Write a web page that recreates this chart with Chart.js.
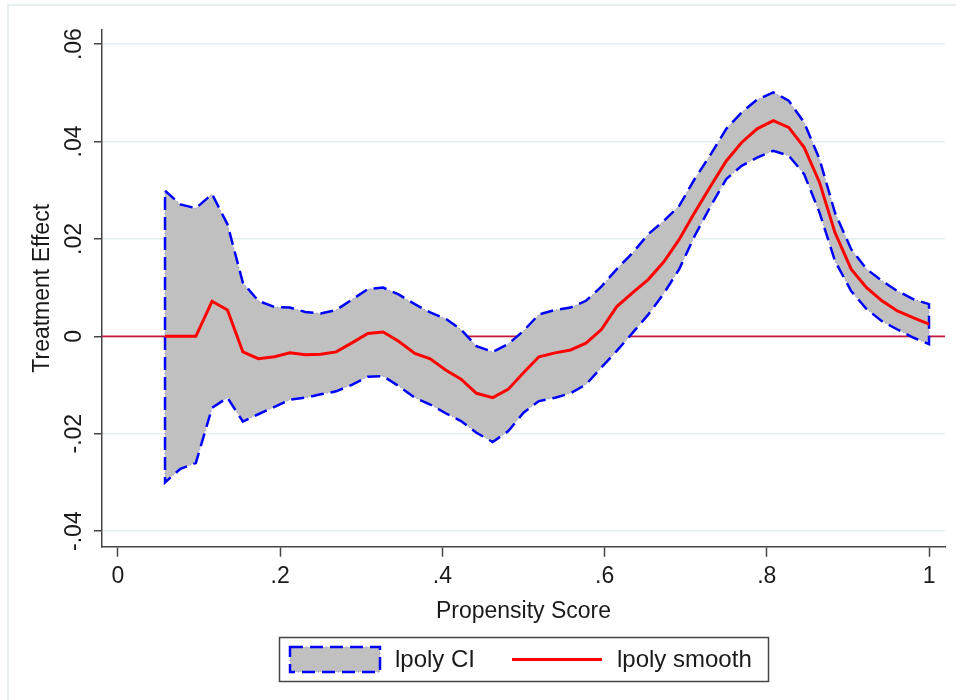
<!DOCTYPE html>
<html>
<head>
<meta charset="utf-8">
<title>lpoly treatment effect</title>
<script src="https://cdn.jsdelivr.net/npm/chart.js@4.4.1/dist/chart.umd.min.js"></script>
<style>
    body { margin: 0; background: #fff; }
    #effect_chart { display: block; }
</style>
</head>
<body>
<canvas id="effect_chart" width="956" height="700"></canvas>
<script>
// propensity score grid (lpoly evaluation points)
const propensity = [0.058, 0.077, 0.096, 0.116, 0.135, 0.154, 0.173, 0.193, 0.212, 0.231,
    0.250, 0.269, 0.289, 0.308, 0.327, 0.346, 0.366, 0.385, 0.404, 0.423,
    0.442, 0.462, 0.481, 0.500, 0.519, 0.539, 0.558, 0.577, 0.596, 0.615,
    0.635, 0.654, 0.673, 0.692, 0.711, 0.731, 0.750, 0.769, 0.788, 0.808,
    0.827, 0.846, 0.865, 0.884, 0.904, 0.923, 0.942, 0.961, 0.981, 1.000];

const smooth = [0.0000, 0.0000, 0.0000, 0.0072, 0.0054, -0.0032, -0.0046, -0.0042, -0.0034, -0.0038,
    -0.0037, -0.0032, -0.0013, 0.0006, 0.0009, -0.0010, -0.0035, -0.0046, -0.0069, -0.0088,
    -0.0117, -0.0126, -0.0109, -0.0075, -0.0042, -0.0034, -0.0028, -0.0014, 0.0014, 0.0061,
    0.0090, 0.0117, 0.0153, 0.0199, 0.0254, 0.0309, 0.0360, 0.0398, 0.0426, 0.0443,
    0.0429, 0.0388, 0.0316, 0.0213, 0.0138, 0.0100, 0.0073, 0.0052, 0.0038, 0.0025];

const ciUpper = [0.0299, 0.0271, 0.0263, 0.0292, 0.0230, 0.0110, 0.0073, 0.0060, 0.0059, 0.0050,
    0.0047, 0.0054, 0.0076, 0.0097, 0.0100, 0.0086, 0.0066, 0.0049, 0.0036, 0.0014,
    -0.0020, -0.0032, -0.0016, 0.0011, 0.0045, 0.0054, 0.0059, 0.0073, 0.0102, 0.0138,
    0.0172, 0.0210, 0.0237, 0.0268, 0.0323, 0.0374, 0.0426, 0.0460, 0.0486, 0.0501,
    0.0484, 0.0439, 0.0364, 0.0254, 0.0179, 0.0138, 0.0114, 0.0093, 0.0076, 0.0066];

const ciLower = [-0.0300, -0.0272, -0.0260, -0.0147, -0.0126, -0.0175, -0.0160, -0.0145, -0.0130, -0.0126,
    -0.0119, -0.0113, -0.0099, -0.0083, -0.0082, -0.0102, -0.0126, -0.0140, -0.0158, -0.0174,
    -0.0198, -0.0217, -0.0195, -0.0157, -0.0133, -0.0126, -0.0117, -0.0099, -0.0064, -0.0030,
    0.0008, 0.0045, 0.0088, 0.0138, 0.0206, 0.0268, 0.0323, 0.0350, 0.0367, 0.0381,
    0.0371, 0.0333, 0.0254, 0.0155, 0.0093, 0.0056, 0.0031, 0.0014, -0.0003, -0.0016];

const xTickVals = [0, 0.2, 0.4, 0.6, 0.8, 1];
const xTickLabels = ["0", ".2", ".4", ".6", ".8", "1"];
const yTickVals = [-0.04, -0.02, 0, 0.02, 0.04, 0.06];
const yTickLabels = ["-.04", "-.02", "0", ".02", ".04", ".06"];
const seriesNames = ["lpoly CI", "lpoly smooth"];
const refLine = 0;
const xRange = [-0.0197, 1.0197];
const yRange = [-0.0432, 0.0629];

const FONT = "'Liberation Sans', Arial, sans-serif";
const TXT = "#1a1a1a";
const AXIS = "#454545";

// CI band as a closed shape: upper edge forward, lower edge back
let ciShape = propensity.map((x, i) => ({x: x, y: ciUpper[i]}))
    .concat(propensity.map((x, i) => ({x: x, y: ciLower[i]})).reverse());
ciShape.push(ciShape[0]);

let smoothPts = propensity.map((x, i) => ({x: x, y: smooth[i]}));
let zeroPts = [{x: xRange[0], y: refLine}, {x: xRange[1], y: refLine}];

// light outer frame like the stata graph region
const framePlugin = {
    id: "frame",
    beforeDraw(chart) {
        let c = chart.ctx;
        c.save();
        c.fillStyle = "#fff";
        c.fillRect(0, 0, chart.width, chart.height);
        c.strokeStyle = "#e7eef2";
        c.lineWidth = 2;
        c.strokeRect(8, 5, chart.width + 20, chart.height + 20);
        c.restore();
    }
};

// legend box under the axis title
const legendPlugin = {
    id: "stataLegend",
    afterDraw(chart) {
        let c = chart.ctx;
        c.save();
        c.strokeStyle = AXIS;
        c.lineWidth = 1.5;
        c.strokeRect(279.5, 637.5, 489, 44);

        c.fillStyle = "#c0c0c0";
        c.fillRect(290, 647, 90, 25);
        c.strokeStyle = "#8080ff";
        c.lineWidth = 1;
        c.setLineDash([1, 3]);
        c.strokeRect(290, 647, 90, 25);
        c.strokeStyle = "#0000ff";
        c.lineWidth = 2.5;
        c.setLineDash([13, 7]);
        c.strokeRect(290, 647, 90, 25);
        c.setLineDash([]);

        c.strokeStyle = "#ff0000";
        c.lineWidth = 3;
        c.beginPath();
        c.moveTo(512, 659.5);
        c.lineTo(602, 659.5);
        c.stroke();

        c.fillStyle = TXT;
        c.font = "24px " + FONT;
        c.textBaseline = "middle";
        c.fillText(seriesNames[0], 395, 660);
        c.fillText(seriesNames[1], 617, 660);
        c.restore();
    }
};

let ctx = document.getElementById("effect_chart");
let effectChart = new Chart(ctx, {
    type: "scatter",
    data: {
        datasets: [
            {
                label: seriesNames[1],
                data: smoothPts,
                showLine: true,
                borderColor: "#ff0000",
                borderWidth: 3,
                pointRadius: 0,
                fill: false,
                order: 0
            },
            {
                label: seriesNames[0] + " outline",
                data: ciShape,
                showLine: true,
                borderColor: "#0000ff",
                borderWidth: 2.5,
                borderDash: [13, 7],
                pointRadius: 0,
                fill: false,
                order: 1
            },
            {
                label: seriesNames[0],
                data: ciShape,
                showLine: true,
                borderColor: "#7878ff",
                borderWidth: 1,
                borderDash: [1, 3],
                backgroundColor: "#c0c0c0",
                pointRadius: 0,
                fill: "shape",
                order: 2
            },
            {
                label: "zero",
                data: zeroPts,
                showLine: true,
                borderColor: "#c8173f",
                borderWidth: 1.8,
                pointRadius: 0,
                fill: false,
                order: 3
            }
        ]
    },
    options: {
        responsive: false,
        animation: false,
        layout: {
            padding: {top: 30, left: 8, right: 11, bottom: 75}
        },
        plugins: {
            legend: {display: false},
            tooltip: {enabled: false}
        },
        scales: {
            x: {
                type: "linear",
                min: xRange[0],
                max: xRange[1],
                afterBuildTicks: (scale) => {
                    scale.ticks = xTickVals.map(v => ({value: v}));
                },
                afterFit: (scale) => {
                    scale.height = 78.3;
                },
                ticks: {
                    autoSkip: false,
                    maxRotation: 0,
                    padding: 6,
                    color: TXT,
                    font: {family: FONT, size: 23},
                    callback: (v) => xTickLabels[xTickVals.indexOf(v)]
                },
                grid: {
                    drawOnChartArea: false,
                    tickLength: 10,
                    tickColor: AXIS,
                    tickWidth: 1.5
                },
                border: {color: AXIS, width: 1.5},
                title: {
                    display: true,
                    text: "Propensity Score",
                    color: TXT,
                    font: {family: FONT, size: 23},
                    padding: {top: 0, bottom: 0}
                }
            },
            y: {
                type: "linear",
                min: yRange[0],
                max: yRange[1],
                afterBuildTicks: (scale) => {
                    scale.ticks = yTickVals.map(v => ({value: v}));
                },
                afterFit: (scale) => {
                    scale.width = 94;
                },
                ticks: {
                    autoSkip: false,
                    minRotation: 90,
                    maxRotation: 90,
                    crossAlign: "center",
                    padding: 0,
                    color: TXT,
                    font: {family: FONT, size: 23},
                    callback: (v) => yTickLabels[yTickVals.indexOf(v)]
                },
                grid: {
                    color: "#e4edf1",
                    lineWidth: 1.5,
                    tickLength: 8,
                    tickColor: AXIS,
                    tickWidth: 1.5
                },
                border: {color: AXIS, width: 1.5},
                title: {
                    display: true,
                    text: "Treatment Effect",
                    color: TXT,
                    font: {family: FONT, size: 23},
                    padding: {top: 21, bottom: 0}
                }
            }
        }
    },
    plugins: [framePlugin, legendPlugin]
});
console.log(effectChart.chartArea);
</script>
</body>
</html>
